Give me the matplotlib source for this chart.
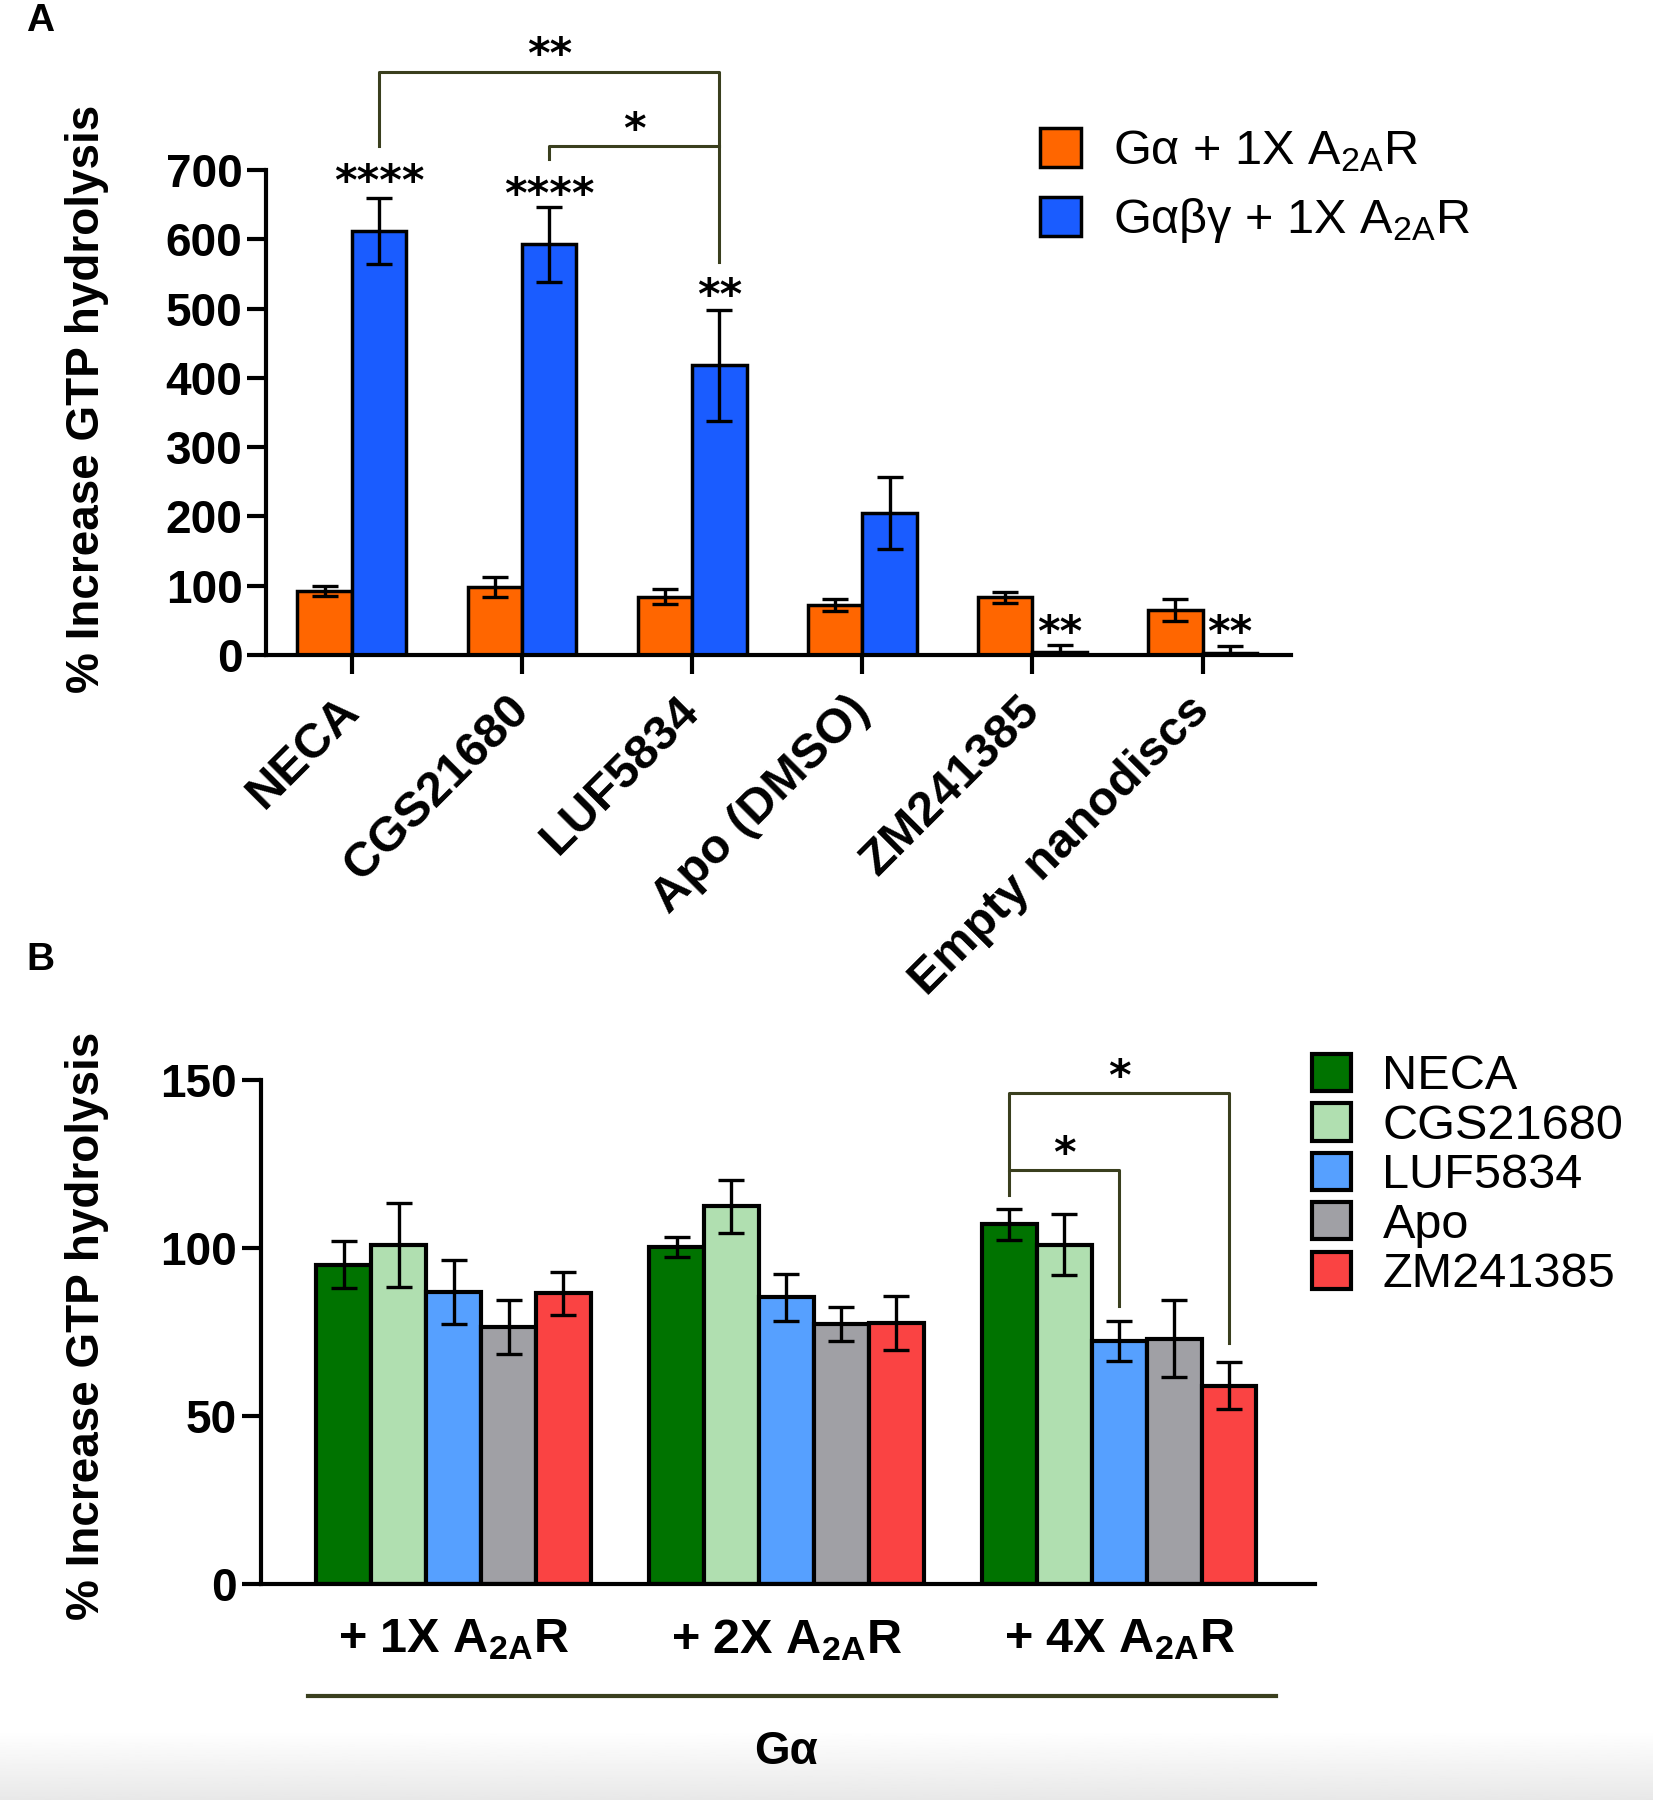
import numpy as np
import matplotlib
matplotlib.use('Agg')
import matplotlib.pyplot as plt
from matplotlib.patches import Patch

plt.rcParams['font.family'] = ['Liberation Sans', 'DejaVu Sans']
plt.rcParams['mathtext.default'] = 'regular'

# ---------------- Panel A data ----------------
a_categories = ['NECA', 'CGS21680', 'LUF5834', 'Apo (DMSO)', 'ZM241385', 'Empty nanodiscs']
a_galpha = [92, 98, 84, 72, 83, 65]
a_galpha_err = [7, 14, 11, 9, 8, 16]
a_gabg = [612, 593, 418, 205, 5, 3]
a_gabg_err = [47, 54, 80, 52, 10, 10]
a_series = ['G\u03b1 + 1X A$\\mathregular{_{2A}}$R', 'G\u03b1\u03b2\u03b3 + 1X A$\\mathregular{_{2A}}$R']
a_yticks = [0, 100, 200, 300, 400, 500, 600, 700]
a_stars = ['****', '****', '**', '', '**', '**']
a_star_y = [702, 683, 538, 0, 51, 51]

# ---------------- Panel B data ----------------
b_groups = ['+ 1X A$\\mathregular{_{2A}}$R', '+ 2X A$\\mathregular{_{2A}}$R', '+ 4X A$\\mathregular{_{2A}}$R']
b_ligands = ['NECA', 'CGS21680', 'LUF5834', 'Apo', 'ZM241385']
b_neca = [95, 100.3, 107]
b_cgs = [101, 112.4, 101]
b_luf = [87, 85.3, 72.3]
b_apo = [76.5, 77.4, 73]
b_zm = [86.5, 77.6, 59]
b_neca_err = [7, 3, 4.5]
b_cgs_err = [12.5, 7.8, 9]
b_luf_err = [9.5, 7, 6]
b_apo_err = [8, 5, 11.5]
b_zm_err = [6.5, 8, 7]
b_yticks = [0, 50, 100, 150]

col_a = ['#ff6600', '#1a5cff']
col_b = ['#007300', '#b0dfb0', '#56a0ff', '#a0a0a5', '#fa4343']
brk = '#3a3f1e'

W, H = 1653, 1800
fig = plt.figure(figsize=(W / 100, H / 100), dpi=100)

# background gradient strip at the very bottom (screenshot look)
axbg = fig.add_axes([0, 0, 1, 70 / H], zorder=-10)
axbg.imshow(np.linspace(1.0, 0.91, 60).reshape(-1, 1), cmap='gray', vmin=0, vmax=1,
            aspect='auto', extent=[0, 1, 0, 1])
axbg.axis('off')


def stars(ax, text, xy):
    ax.annotate(text, xy, xytext=(0, -19), textcoords='offset points',
                ha='center', va='baseline', fontsize=31, fontweight='bold',
                family='DejaVu Sans', annotation_clip=False)


# ================= Panel A =================
axA = fig.add_axes([266 / W, 1 - 655 / H, (1291 - 266) / W, (655 - 170) / H])
x = np.arange(len(a_categories))
off, bw = 0.16, 0.32
axA.bar(x - off, a_galpha, bw, color=col_a[0], edgecolor='black', linewidth=2.5, zorder=2)
axA.bar(x + off, a_gabg, bw, color=col_a[1], edgecolor='black', linewidth=2.5, zorder=2)
axA.errorbar(x - off, a_galpha, yerr=a_galpha_err, fmt='none', ecolor='black',
             elinewidth=2.4, capsize=9.5, capthick=2.4, zorder=3)
axA.errorbar(x + off, a_gabg, yerr=a_gabg_err, fmt='none', ecolor='black',
             elinewidth=2.4, capsize=9.5, capthick=2.4, zorder=3)
axA.set_xlim(-0.505, 5.52)
axA.set_ylim(0, 700)
for s in ['top', 'right']:
    axA.spines[s].set_visible(False)
for s in ['left', 'bottom']:
    axA.spines[s].set_linewidth(3)
axA.set_yticks(a_yticks, [str(v) for v in a_yticks], fontsize=33, fontweight='bold')
axA.set_xticks(x, a_categories, rotation=45, ha='right', va='center',
               rotation_mode='anchor', fontsize=35, fontweight='bold')
axA.tick_params(axis='both', length=14, width=3, pad=3)
axA.tick_params(axis='x', pad=21)
for lbl in axA.get_xticklabels():
    lbl.set_x(lbl.get_position()[0])
axA.set_ylabel('% Increase GTP hydrolysis', fontsize=33, fontweight='bold')
axA.yaxis.set_label_coords(-0.153, 0.528)

for i, st in enumerate(a_stars):
    if st:
        stars(axA, st, (x[i] + off, a_star_y[i]))
# brackets
axA.plot([x[0] + off, x[0] + off, x[2] + off, x[2] + off], [734, 841, 841, 567],
         color=brk, lw=2.2, clip_on=False, zorder=4)
axA.plot([x[1] + off, x[1] + off, x[2] + off], [716, 735, 735],
         color=brk, lw=2.2, clip_on=False, zorder=4)
stars(axA, '**', ((x[0] + x[2]) / 2 + off, 885))
stars(axA, '*', ((x[1] + x[2]) / 2 + off, 777))

hA = [Patch(facecolor=c, edgecolor='black', linewidth=2.5) for c in col_a]
legA = axA.legend(hA, a_series, loc='upper left', bbox_to_anchor=(1040 / W, 1 - 128 / H),
                  bbox_transform=fig.transFigure, fontsize=35, frameon=False,
                  handlelength=0.85, handleheight=0.85, handletextpad=0.65,
                  labelspacing=0.45, borderpad=0, borderaxespad=0)

# ================= Panel B =================
axB = fig.add_axes([260.6 / W, 1 - 1584 / H, (1314.5 - 260.6) / W, (1584 - 1080) / H])
xb = np.arange(len(b_groups))
bwb = 0.165
b_vals = [b_neca, b_cgs, b_luf, b_apo, b_zm]
b_errs = [b_neca_err, b_cgs_err, b_luf_err, b_apo_err, b_zm_err]
for k, (vals, errs) in enumerate(zip(b_vals, b_errs)):
    pos = xb + (k - 2) * bwb
    axB.bar(pos, vals, bwb, color=col_b[k], edgecolor='black', linewidth=3,
            label=b_ligands[k], zorder=2)
    axB.errorbar(pos, vals, yerr=errs, fmt='none', ecolor='black', elinewidth=2.4,
                 capsize=9.5, capthick=2.4, zorder=3)
axB.set_xlim(-0.58, 2.587)
axB.set_ylim(0, 150)
for s in ['top', 'right']:
    axB.spines[s].set_visible(False)
for s in ['left', 'bottom']:
    axB.spines[s].set_linewidth(3)
axB.set_yticks(b_yticks, [str(v) for v in b_yticks], fontsize=33, fontweight='bold')
axB.set_xticks(xb, b_groups, fontsize=35, fontweight='bold')
axB.tick_params(axis='y', length=14, width=3, pad=3)
axB.tick_params(axis='x', length=0, pad=24)
axB.set_ylabel('% Increase GTP hydrolysis', fontsize=33, fontweight='bold')
axB.yaxis.set_label_coords(-0.144, 0.512)

# brackets panel B (4X group)
g = 2
xn, xl, xz = g - 2 * bwb, g, g + 2 * bwb
axB.plot([xn, xn, xl, xl], [115.8, 123.3, 123.3, 82.7], color=brk, lw=2.2, clip_on=False, zorder=4)
axB.plot([xn, xn, xz, xz], [123.3, 146, 146, 71.8], color=brk, lw=2.2, clip_on=False, zorder=4)
stars(axB, '*', ((xn + xl) / 2, 132))
stars(axB, '*', ((xn + xz) / 2, 155))

# group line and G-alpha label
tr = axB.get_xaxis_transform()
axB.plot([-0.438, 2.47], [-0.222, -0.222], color=brk, lw=3, transform=tr, clip_on=False)
axB.text(1.0, -0.333, 'G\u03b1', transform=tr, ha='center', va='center',
         fontsize=33, fontweight='bold')

legB = axB.legend(loc='upper left', bbox_to_anchor=(1312 / W, 1 - 1054 / H),
                  bbox_transform=fig.transFigure, fontsize=35, frameon=False,
                  handlelength=0.8, handleheight=0.8, handletextpad=0.65,
                  labelspacing=0.08, borderpad=0, borderaxespad=0)

fig.text(40 / W, 1 - 21 / H, 'A', fontsize=28, fontweight='bold', ha='center', va='center')
fig.text(40 / W, 1 - 960 / H, 'B', fontsize=28, fontweight='bold', ha='center', va='center')

fig.savefig('out.png', dpi=100)
